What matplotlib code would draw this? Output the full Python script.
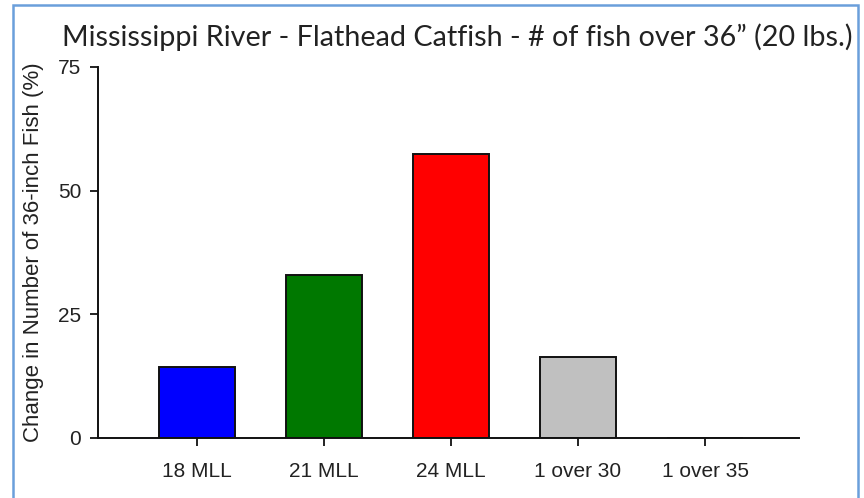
import matplotlib
matplotlib.use("Agg")
import matplotlib.pyplot as plt
from matplotlib.patches import Rectangle

categories = ["18 MLL", "21 MLL", "24 MLL", "1 over 30", "1 over 35"]
values = [14.4, 33.0, 57.4, 16.4, 0.0]
colors = ["#0000FF", "#007800", "#FF0000", "#C0C0C0", "#FFFFFF"]
yticks = [0, 25, 50, 75]

title = "Mississippi River - Flathead Catfish - # of fish over 36\u201d (20 lbs.)"
ylabel = "Change in Number of 36-inch Fish (%)"

plt.rcParams['font.family'] = ['Liberation Sans', 'DejaVu Sans']

fig = plt.figure(figsize=(8.64, 4.98), dpi=100)
ax = fig.add_axes([0.1134, 0.1205, 0.8114, 0.745])

x = list(range(len(categories)))
ax.bar(x, values, width=0.6, color=colors, edgecolor="#111111", linewidth=1.4)

ax.set_xlim(-0.78, 4.74)
ax.set_ylim(0, 75)
ax.set_yticks(yticks)
ax.set_xticks(x)
ax.set_xticklabels(categories, fontsize=15, color="#222222")
ax.tick_params(axis='y', labelsize=15, labelcolor="#222222")
ax.tick_params(direction='out', length=6, width=1.3, color="#111111")
ax.tick_params(axis='x', pad=11)
ax.tick_params(axis='y', pad=6)

for s in ['top', 'right']:
    ax.spines[s].set_visible(False)
for s in ['left', 'bottom']:
    ax.spines[s].set_linewidth(1.4)
    ax.spines[s].set_color("#111111")

ax.set_ylabel(ylabel, fontsize=16, color="#222222", labelpad=10)

fig.text(0.529, 0.925, title, family=['Lato', 'DejaVu Sans'], fontsize=20.7,
         ha='center', va='center', color="#222222")

# light blue frame around the slide
fig.patches.append(Rectangle((0.0145, -0.05), 0.979, 1.039, transform=fig.transFigure,
                             fill=False, edgecolor="#6A9FDB", linewidth=1.8))

fig.savefig("out.png", dpi=100)
